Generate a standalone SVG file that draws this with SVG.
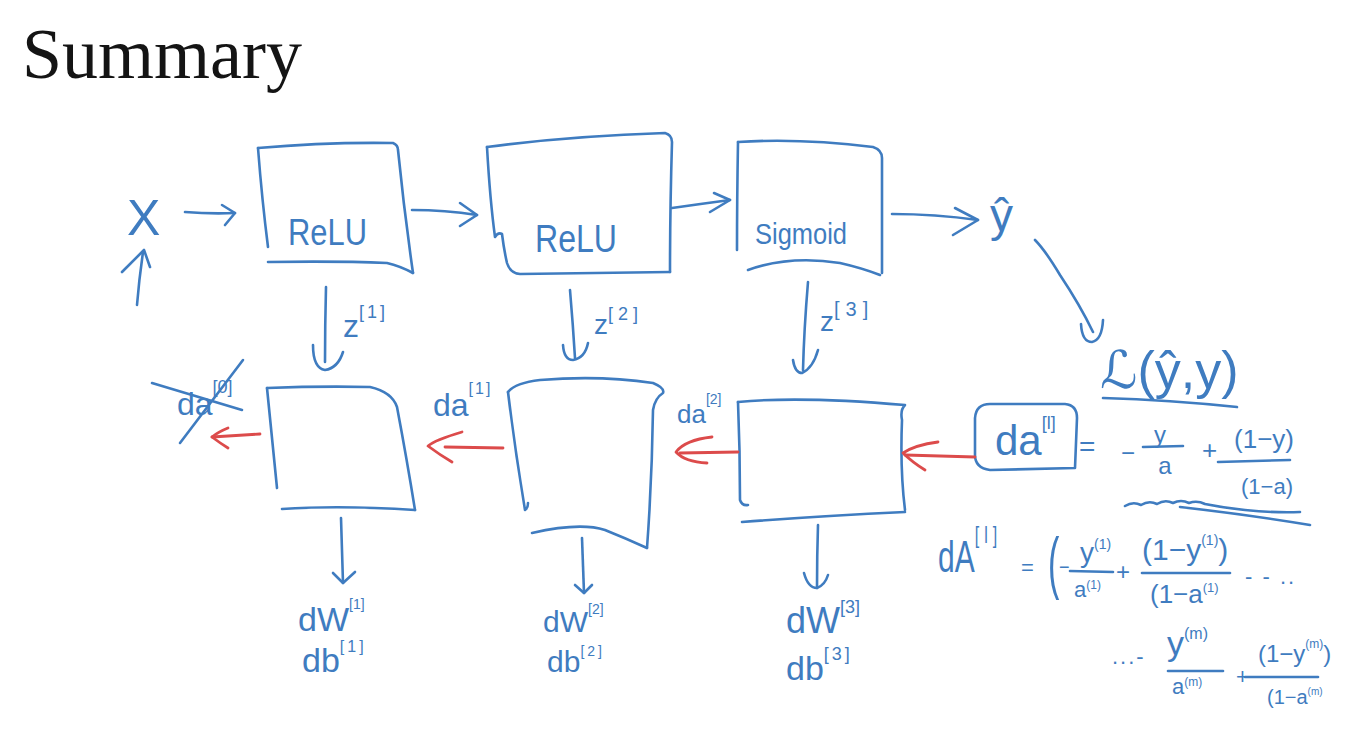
<svg xmlns="http://www.w3.org/2000/svg" width="1358" height="729" viewBox="0 0 1358 729">
<style>
.ln{fill:none;stroke:#3f7cc0;stroke-width:2.6;stroke-linecap:round;stroke-linejoin:round}
.rd{fill:none;stroke:#dc4b4b;stroke-width:2.8;stroke-linecap:round;stroke-linejoin:round}
.h{font-family:"Liberation Sans","DejaVu Sans",Arial,sans-serif;fill:#3f7cc0}
.t{font-family:"Liberation Serif","Times New Roman",serif;fill:#141414}
</style>
<rect width="1358" height="729" fill="#ffffff"/>
<text class="t" x="22" y="78" font-size="72">Summary</text>

<g id="node-x"><text class="h" x="127" y="235" font-size="50">X</text></g>

<g id="node-relu1">
<path class="ln" d="M258 148 Q262 200 268 247"/>
<path class="ln" d="M258 148 Q325 142 393 143 Q398 145 398 150 Q404 210 413 273"/>
<path class="ln" d="M268 262 Q340 261 387 263 Q400 266 413 273"/>
<text class="h" x="288" y="245" font-size="36" textLength="79" lengthAdjust="spacingAndGlyphs">ReLU</text>
</g>

<g id="node-relu2">
<path class="ln" d="M487 147 Q490 200 495 237 Q498 232 502 234 Q504 250 507 263 Q510 273 520 274 L670 272"/>
<path class="ln" d="M487 147 Q570 136 665 133 Q672 135 672 142 Q670 210 670 272"/>
<text class="h" x="535" y="252" font-size="38" textLength="82" lengthAdjust="spacingAndGlyphs">ReLU</text>
</g>

<g id="node-sigmoid">
<path class="ln" d="M738 142 Q737 200 737 250"/>
<path class="ln" d="M738 142 Q800 138 873 147 Q882 150 882 158 L882 273"/>
<path class="ln" d="M748 270 Q790 255 840 263 Q862 268 880 275"/>
<text class="h" x="755" y="244" font-size="30" textLength="92" lengthAdjust="spacingAndGlyphs">Sigmoid</text>
</g>

<g id="node-yhat"><text class="h" x="990" y="231" font-size="46">ŷ</text></g>

<g id="node-loss">
<text class="h" x="1100" y="388" font-size="52">ℒ(ŷ,y)</text>
<path class="ln" d="M1103 398 Q1170 400 1237 407"/>
</g>

<g id="node-back1">
<path class="ln" d="M267 388 Q272 440 277 488"/>
<path class="ln" d="M267 388 Q320 386 370 387 Q392 392 397 407 Q407 460 415 510"/>
<path class="ln" d="M282 509 Q340 505 415 510"/>
</g>

<g id="node-back2">
<path class="ln" d="M508 392 Q515 450 525 510 Q528 508 528 503"/>
<path class="ln" d="M508 392 Q515 383 540 380 Q600 375 653 383 Q665 388 663 393 Q655 398 653 410 Q652 480 647 548"/>
<path class="ln" d="M532 533 Q580 522 605 530 Q625 538 647 548"/>
</g>

<g id="node-back3">
<path class="ln" d="M738 402 Q740 450 740 500 Q742 506 748 505"/>
<path class="ln" d="M738 402 Q800 396 905 405 Q900 410 902 420 Q900 470 905 510"/>
<path class="ln" d="M742 522 Q820 516 905 512"/>
</g>

<g id="node-dal">
<path class="ln" d="M990 404 L1065 404 Q1077 405 1077 418 L1075 468 L990 470 Q975 468 975 455 L975 418 Q976 404 990 404 Z"/>
<text class="h" x="995" y="455" font-size="42">da<tspan font-size="18" dy="-26">[l]</tspan></text>
</g>

<g id="node-dal-formula">
<text class="h" x="1079" y="456" font-size="28">=</text>
<text class="h" x="1121" y="461" font-size="24">−</text>
<text class="h" x="1160" y="443" font-size="24" text-anchor="middle">y</text>
<path class="ln" d="M1143 447 L1183 446"/>
<text class="h" x="1165" y="474" font-size="24" text-anchor="middle">a</text>
<text class="h" x="1202" y="459" font-size="26">+</text>
<text class="h" x="1264" y="448" font-size="26" text-anchor="middle">(1−y)</text>
<path class="ln" d="M1218 462 L1290 460"/>
<text class="h" x="1267" y="494" font-size="22" text-anchor="middle">(1−a)</text>
<path class="ln" d="M1125 506 q8 -5 16 -1 q8 -5 16 -1 q8 -5 16 -1 q8 -4 16 0 q8 -3 16 1 q20 4 40 6 q30 3 55 2"/>
<path class="ln" d="M1180 507 Q1250 515 1310 525"/>
</g>

<g id="node-dA">
<text class="h" transform="translate(938 572) scale(1 1.45)" font-size="30">dA<tspan font-size="16" dy="-20" letter-spacing="5">[l]</tspan></text>
<text class="h" x="1021" y="575" font-size="22">=</text>
<text class="h" transform="translate(1048 586) scale(1 2)" font-size="34">(</text>
<text class="h" x="1059" y="573" font-size="18">−</text>
<text class="h" x="1080" y="562" font-size="28">y<tspan font-size="14" dy="-13">(1)</tspan></text>
<path class="ln" d="M1070 571 L1113 572"/>
<text class="h" x="1074" y="597" font-size="22">a<tspan font-size="12" dy="-8">(1)</tspan></text>
<text class="h" x="1116" y="580" font-size="24">+</text>
<text class="h" x="1142" y="560" font-size="30">(1−y<tspan font-size="14" dy="-15">(1)</tspan><tspan font-size="30" dy="15">)</tspan></text>
<path class="ln" d="M1142 573 L1230 573"/>
<text class="h" x="1150" y="603" font-size="26">(1−a<tspan font-size="13" dy="-11">(1)</tspan></text>
<text class="h" x="1245" y="584" font-size="22" letter-spacing="2">- - ..</text>
<text class="h" x="1112" y="664" font-size="22" letter-spacing="2">...-</text>
<text class="h" x="1167" y="655" font-size="34">y<tspan font-size="16" dy="-16">(m)</tspan></text>
<path class="ln" d="M1168 671 L1223 671"/>
<text class="h" x="1172" y="694" font-size="22">a<tspan font-size="12" dy="-8">(m)</tspan></text>
<text class="h" x="1236" y="684" font-size="22">+</text>
<text class="h" x="1258" y="662" font-size="24">(1−y<tspan font-size="12" dy="-14">(m)</tspan><tspan font-size="24" dy="14">)</tspan></text>
<path class="ln" d="M1245 677 L1318 677"/>
<text class="h" x="1267" y="704" font-size="20">(1−a<tspan font-size="10" dy="-9">(m)</tspan></text>
</g>

<g id="labels">
<text class="h" x="343" y="337" font-size="32">z<tspan font-size="18" dy="-19" letter-spacing="3">[1]</tspan></text>
<text class="h" x="594" y="334" font-size="28">z<tspan font-size="18" dy="-14" letter-spacing="5">[2]</tspan></text>
<text class="h" x="820" y="331" font-size="28">z<tspan font-size="20" dy="-15" letter-spacing="6">[3]</tspan></text>
<g id="da0">
<text class="h" x="177" y="415" font-size="32">da<tspan font-size="18" dy="-22">[0]</tspan></text>
<path class="ln" d="M152 383 L242 410"/>
<path class="ln" d="M180 443 L243 360"/>
</g>
<text class="h" x="433" y="416" font-size="32">da<tspan font-size="16" dy="-22" letter-spacing="2">[1]</tspan></text>
<text class="h" x="677" y="423" font-size="26">da<tspan font-size="14" dy="-19">[2]</tspan></text>
<text class="h" x="298" y="631" font-size="34">dW<tspan font-size="14" dy="-22">[1]</tspan></text>
<text class="h" x="302" y="672" font-size="34">db<tspan font-size="16" dy="-20" letter-spacing="3">[1]</tspan></text>
<text class="h" x="543" y="632" font-size="30">dW<tspan font-size="14" dy="-18">[2]</tspan></text>
<text class="h" x="547" y="672" font-size="30">db<tspan font-size="14" dy="-16" letter-spacing="3">[2]</tspan></text>
<text class="h" x="786" y="633" font-size="36">dW<tspan font-size="18" dy="-20">[3]</tspan></text>
<text class="h" x="786" y="680" font-size="34">db<tspan font-size="18" dy="-20" letter-spacing="3">[3]</tspan></text>
</g>

<g id="connectors">
<path class="ln" d="M137 305 Q139 280 143 252"/><path class="ln" d="M122 272 L144 250 L150 267"/>
<path class="ln" d="M185 212 Q210 214 235 213"/><path class="ln" d="M222 205 L235 213 L225 225"/>
<path class="ln" d="M412 210 Q445 210 477 215"/><path class="ln" d="M460 203 L477 215 L460 226"/>
<path class="ln" d="M672 208 Q700 204 730 200"/><path class="ln" d="M714 193 L730 200 L710 212"/>
<path class="ln" d="M892 214 Q935 214 978 220"/><path class="ln" d="M955 208 L978 220 L953 235"/>
<path class="ln" d="M1035 240 Q1045 250 1060 275 Q1080 305 1093 332"/><path class="ln" d="M1081 324 Q1082 342 1092 342 Q1102 340 1103 320"/>
<path class="ln" d="M326 287 Q325 325 325 362"/><path class="ln" d="M313 345 Q313 368 325 370 Q338 368 343 352"/>
<path class="ln" d="M570 290 Q573 325 575 358"/><path class="ln" d="M563 345 Q564 360 573 360 Q585 358 588 343"/>
<path class="ln" d="M808 282 Q804 330 803 370"/><path class="ln" d="M793 360 Q795 373 802 373 Q813 368 818 350"/>
<path class="rd" d="M260 434 L212 437"/><path class="rd" d="M228 428 Q218 432 212 437 Q220 443 228 448"/>
<path class="rd" d="M503 448 L445 447"/><path class="rd" d="M462 432 Q435 440 428 446 Q440 455 452 462"/>
<path class="rd" d="M738 452 L680 453"/><path class="rd" d="M712 437 Q685 440 676 452 Q685 462 707 463"/>
<path class="rd" d="M975 457 L905 455"/><path class="rd" d="M938 442 Q915 445 903 453 Q912 462 925 470"/>
<path class="ln" d="M341 518 Q342 550 343 583"/><path class="ln" d="M333 573 L343 583 L355 572"/>
<path class="ln" d="M582 538 Q583 565 584 593"/><path class="ln" d="M575 585 L584 593 L592 585"/>
<path class="ln" d="M818 525 Q817 555 817 588"/><path class="ln" d="M804 573 Q808 588 817 588 Q825 585 828 575"/>
</g>
</svg>
